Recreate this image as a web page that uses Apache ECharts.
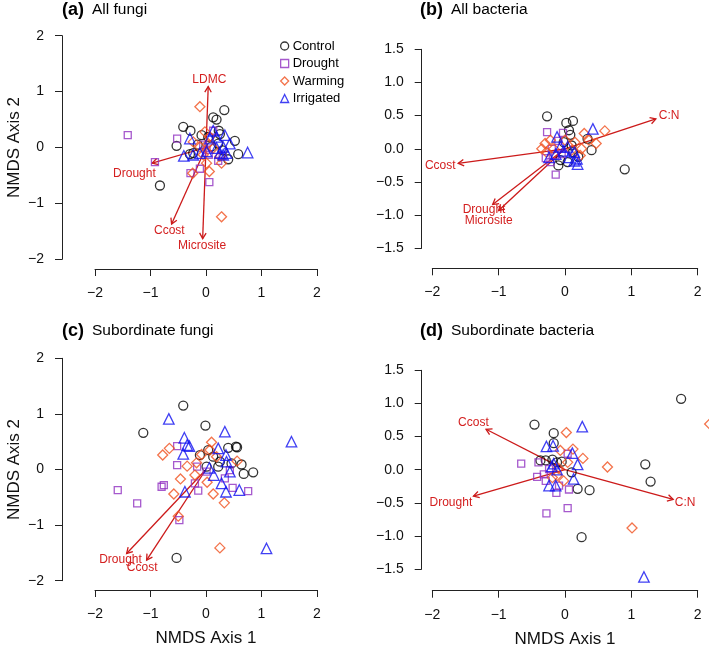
<!DOCTYPE html>
<html><head><meta charset="utf-8">
<script src="https://cdn.jsdelivr.net/npm/echarts@6/dist/echarts.min.js"></script>
<style>html,body{margin:0;padding:0;background:#fff}#c{width:709px;height:649px}</style>
</head><body><div id="c"></div>
<script>
// ---------- DATA ----------
const groups = ['Control','Drought','Warming','Irrigated'];
const xTicks = [-2,-1,0,1,2];
const yTicksFungi = [-2,-1,0,1,2];
const yTicksBact = [-1.5,-1.0,-0.5,0.0,0.5,1.0,1.5];
const panelLetters = ['(a)','(b)','(c)','(d)'];
const panelNames = ['All fungi','All bacteria','Subordinate fungi','Subordinate bacteria'];

// (a) All fungi
const aControl = [[0.33,0.67],[0.13,0.54],[0.19,0.50],[-0.41,0.37],[-0.28,0.30],[-0.53,0.03],[-0.83,-0.68],[0.52,0.12],[0.58,-0.12],[-0.08,0.22],[0.23,0.30],[0.22,0.07],[-0.29,-0.12],[0.40,-0.21],[-0.23,-0.10],[0.04,0.19],[0.25,0.24],[0.10,0.02],[-0.15,0.05],[0.30,-0.05]];
const aDrought = [[-1.41,0.22],[-0.52,0.16],[-0.92,-0.26],[-0.28,-0.46],[-0.11,-0.38],[0.06,-0.62],[0.22,-0.24],[0.13,0.30],[0.01,-0.04],[-0.05,0.05],[0.05,-0.13],[0.30,-0.15]];
const aWarming = [[-0.11,0.73],[0.28,-1.24],[0.06,-0.43],[-0.24,-0.46],[0.01,-0.28],[0.28,-0.28],[-0.23,0.10],[-0.02,0.28],[-0.11,0.01],[0.04,0.07],[0.13,-0.01],[-0.05,-0.13],[0.25,-0.16],[0.07,0.19]];
const aIrrigated = [[0.75,-0.09],[-0.40,-0.15],[-0.29,0.16],[0.34,0.22],[0.19,0.19],[0.13,0.30],[0.07,0.16],[0.31,0.01],[0.37,-0.10],[0.25,-0.10],[-0.11,-0.10],[-0.23,-0.13],[0.01,-0.07],[0.19,-0.01],[0.31,-0.13],[0.43,0.07]];
const aArrows = [[0.04,1.09],[-0.97,-0.28],[-0.62,-1.37],[-0.06,-1.63]];
const aArrowLabels = [[0.06,1.21],[-1.29,-0.46],[-0.66,-1.49],[-0.07,-1.76]];
const aArrowNames = ['LDMC','Drought','Ccost','Microsite'];

// (b) All bacteria
const bControl = [[-0.27,0.49],[0.02,0.39],[0.12,0.42],[0.06,0.28],[0.08,0.21],[0.34,0.15],[0.40,-0.02],[0.90,-0.31],[0.10,0.05],[-0.10,-0.25],[0.04,-0.20],[-0.07,-0.17],[0.12,-0.05],[0.20,-0.12],[-0.02,0.10]];
const bDrought = [[-0.27,0.25],[-0.14,-0.39],[-0.29,-0.14],[-0.20,0.0],[-0.03,0.24],[-0.15,-0.10],[-0.10,0.12],[-0.22,-0.20],[-0.05,-0.08]];
const bWarming = [[0.60,0.27],[0.29,0.23],[0.47,0.08],[0.36,0.13],[0.25,0.0],[0.23,-0.10],[-0.35,0.0],[-0.30,0.08],[-0.22,0.13],[-0.17,0.0],[0.0,0.13],[0.15,0.10],[-0.28,-0.05],[0.10,-0.02]];
const bIrrigated = [[0.42,0.30],[-0.12,0.18],[-0.24,-0.13],[0.19,-0.23],[0.14,-0.18],[-0.02,-0.03],[-0.07,0.03],[0.06,-0.13],[-0.14,-0.08],[0.04,0.03],[0.14,-0.05],[0.18,-0.15]];
const bArrows = [[1.37,0.45],[-1.61,-0.22],[-1.09,-0.84],[-1.0,-0.93]];
const bArrowLabels = [[1.57,0.50],[-1.88,-0.25],[-1.22,-0.92],[-1.15,-1.09]];
const bArrowNames = ['C:N','Ccost','Drought','Microsite'];

// (c) Subordinate fungi
const cControl = [[-0.41,1.15],[-1.13,0.66],[-0.01,0.79],[-0.53,-1.59],[0.40,0.39],[0.54,0.41],[0.56,0.40],[0.64,0.09],[0.68,-0.08],[0.85,-0.05],[0.46,0.11],[0.25,0.14],[0.22,0.05],[0.04,0.35],[-0.11,0.26],[0.01,0.05],[0.13,0.23]];
const cDrought = [[-1.59,-0.37],[-1.24,-0.61],[-0.80,-0.31],[-0.76,-0.28],[-0.52,0.42],[-0.52,0.08],[-0.48,-0.91],[-0.14,-0.38],[-0.20,-0.25],[-0.16,0.05],[0.01,-0.04],[0.34,-0.16],[0.48,-0.33],[0.76,-0.39],[0.43,-0.01]];
const cWarming = [[0.10,0.49],[-0.66,0.38],[-0.78,0.26],[-0.34,0.06],[-0.46,-0.17],[-0.58,-0.44],[-0.50,-0.84],[0.25,-1.41],[0.13,-0.44],[0.33,-0.60],[0.02,-0.23],[-0.08,0.27],[-0.17,0.12],[0.56,0.15],[0.07,0.35],[-0.20,-0.10],[0.19,0.23]];
const cIrrigated = [[-0.67,0.91],[0.34,0.68],[1.54,0.50],[1.09,-1.42],[-0.39,0.57],[-0.34,0.44],[-0.41,0.28],[-0.30,0.42],[0.22,0.38],[0.36,0.26],[0.43,-0.04],[0.14,-0.10],[0.28,-0.25],[0.36,-0.40],[0.60,-0.37],[-0.38,-0.40],[0.06,0.03],[0.37,0.14]];
const cArrows = [[-1.43,-1.51],[-1.07,-1.63]];
const cArrowLabels = [[-1.54,-1.62],[-1.15,-1.76]];
const cArrowNames = ['Drought','Ccost'];

// (d) Subordinate bacteria
const dControl = [[1.75,1.07],[-0.46,0.68],[-0.17,0.55],[-0.17,0.40],[1.21,0.08],[1.29,-0.18],[0.25,-1.02],[0.19,-0.29],[0.37,-0.31],[0.10,-0.04],[-0.37,0.14],[-0.29,0.14],[-0.19,0.15],[-0.12,0.11],[-0.05,0.12]];
const dDrought = [[-0.66,0.09],[-0.28,-0.66],[0.04,-0.58],[0.06,-0.30],[-0.13,-0.35],[-0.42,-0.11],[-0.40,0.11],[0.04,0.24],[-0.29,-0.17],[-0.24,0.01],[-0.09,-0.24],[-0.32,-0.07]];
const dWarming = [[0.02,0.56],[0.12,0.31],[0.27,0.17],[0.64,0.04],[1.01,-0.88],[2.18,0.69],[-0.07,0.29],[0.04,0.11],[-0.02,-0.17],[-0.12,-0.09],[-0.19,-0.12],[-0.10,0.02]];
const dIrrigated = [[0.26,0.65],[1.19,-1.62],[-0.28,0.35],[-0.18,0.36],[0.11,0.25],[0.19,0.08],[0.13,-0.14],[-0.24,-0.24],[-0.14,-0.24],[-0.17,0.09],[-0.12,0.0],[-0.20,0.05]];
const dArrows = [[-1.19,0.61],[-1.38,-0.40],[1.63,-0.45]];
const dArrowLabels = [[-1.38,0.71],[-1.72,-0.50],[1.81,-0.50]];
const dArrowNames = ['Ccost','Drought','C:N'];

// ---------- STYLE ----------
const FONT = '"Liberation Sans", Arial, Helvetica, sans-serif';
const RED = '#CC1A1A';
const groupStyle = {
  Control:   {symbol:'circle',   size:9,    color:'#000000'},
  Drought:   {symbol:'rect',     size:7,    color:'#9030C0'},
  Warming:   {symbol:'diamond',  size:10,   color:'#F0501E'},
  Irrigated: {symbol:'triangle', size:10.5, color:'#1010F0'}
};
const panels = [
  {pts:[aControl,aDrought,aWarming,aIrrigated], arr:aArrows, lab:aArrowLabels, names:aArrowNames, yt:yTicksFungi,
   grid:{left:95, top:35.7, width:222, height:223.6}, xoff:9.7, yoff:33, showXName:false, showYName:true},
  {pts:[bControl,bDrought,bWarming,bIrrigated], arr:bArrows, lab:bArrowLabels, names:bArrowNames, yt:yTicksBact,
   grid:{left:432.3, top:49.3, width:265.4, height:199}, xoff:20, yoff:10.6, showXName:false, showYName:false},
  {pts:[cControl,cDrought,cWarming,cIrrigated], arr:cArrows, lab:cArrowLabels, names:cArrowNames, yt:yTicksFungi,
   grid:{left:95, top:358.3, width:222, height:222.4}, xoff:9.3, yoff:33, showXName:true, showYName:true},
  {pts:[dControl,dDrought,dWarming,dIrrigated], arr:dArrows, lab:dArrowLabels, names:dArrowNames, yt:yTicksBact,
   grid:{left:432.3, top:370.3, width:265.4, height:198.7}, xoff:21.7, yoff:10.6, showXName:true, showYName:false}
];
const titlePos = [{left:62, top:1},{left:420, top:1},{left:62, top:322},{left:420, top:322}];

function fmt(v, dec){ const s = dec ? v.toFixed(1) : String(v); return s.replace('-', '\u2212'); }

const option = {
  animation:false,
  backgroundColor:'#ffffff',
  title: panels.map((p,i)=>({
    left:titlePos[i].left, top:titlePos[i].top, padding:0,
    text:'{b|'+panelLetters[i]+'}{n|'+panelNames[i]+'}',
    textStyle:{fontWeight:'normal', rich:{
      b:{fontFamily:FONT, fontWeight:'bold', fontSize:18, color:'#000', padding:[0,8,0,0]},
      n:{fontFamily:FONT, fontWeight:'normal', fontSize:15.5, color:'#000'}
    }}
  })),
  legend:{
    left:280, top:39.5, orient:'vertical', itemGap:4.5, itemWidth:8, itemHeight:8,
    selectedMode:false, padding:0,
    textStyle:{fontFamily:FONT, fontSize:13, color:'#000', padding:[0,0,0,-1]},
    data: groups.map(g=>({name:g, icon:groupStyle[g].symbol,
      itemStyle:{color:'rgba(0,0,0,0)', borderColor:groupStyle[g].color, borderWidth:1.3}}))
  },
  grid: panels.map(p=>Object.assign({containLabel:false}, p.grid)),
  xAxis: panels.map((p,i)=>({
    type:'value', gridIndex:i, min:-2, max:2, interval:1, offset:p.xoff,
    axisLine:{show:true, onZero:false, lineStyle:{color:'#222', width:1}},
    axisTick:{show:true, length:7, lineStyle:{color:'#222', width:1}},
    splitLine:{show:false},
    axisLabel:{fontFamily:FONT, fontSize:14, color:'#111', margin:17, formatter:v=>fmt(v,false), showMinLabel:true, showMaxLabel:true},
    name: p.showXName ? 'NMDS Axis 1' : '', nameLocation:'middle', nameGap:40,
    nameTextStyle:{fontFamily:FONT, fontSize:17, color:'#111'}
  })),
  yAxis: panels.map((p,i)=>({
    type:'value', gridIndex:i, min:p.yt[0], max:p.yt[p.yt.length-1], interval:p.yt[1]-p.yt[0], offset:p.yoff,
    axisLine:{show:true, onZero:false, lineStyle:{color:'#222', width:1}},
    axisTick:{show:true, length:7, lineStyle:{color:'#222', width:1}},
    splitLine:{show:false},
    axisLabel:{fontFamily:FONT, fontSize:14, color:'#111', margin:18, formatter:v=>fmt(v, i%2===1), showMinLabel:true, showMaxLabel:true},
    name: p.showYName ? 'NMDS Axis 2' : '', nameLocation:'middle', nameGap:39, nameRotate:90,
    nameTextStyle:{fontFamily:FONT, fontSize:17, color:'#111'}
  })),
  series: []
};

panels.forEach((p,i)=>{
  groups.forEach((g,k)=>{
    const st = groupStyle[g];
    option.series.push({
      type:'scatter', name:g, xAxisIndex:i, yAxisIndex:i, data:p.pts[k], clip:false,
      symbol:st.symbol, symbolSize:st.size, silent:true,
      itemStyle:{color:'rgba(0,0,0,0)', borderColor:st.color, borderWidth:1.3},
      emphasis:{disabled:true}
    });
  });
  const names = p.names, labs = p.lab;
  option.series.push({
    type:'custom', name:'arrows'+i, xAxisIndex:i, yAxisIndex:i, data:p.arr, clip:false, silent:true,
    renderItem:function(params, api){
      const o = api.coord([0,0]);
      const t = api.coord([api.value(0), api.value(1)]);
      const lp = api.coord(labs[params.dataIndex]);
      const ang = Math.atan2(t[1]-o[1], t[0]-o[0]);
      const L = 6.5, A = Math.PI/6;
      const h1 = [t[0]-L*Math.cos(ang-A), t[1]-L*Math.sin(ang-A)];
      const h2 = [t[0]-L*Math.cos(ang+A), t[1]-L*Math.sin(ang+A)];
      return {type:'group', children:[
        {type:'line', shape:{x1:o[0],y1:o[1],x2:t[0],y2:t[1]}, style:{stroke:RED, lineWidth:1.3}},
        {type:'polyline', shape:{points:[h1,t,h2]}, style:{stroke:RED, lineWidth:1.3, fill:null}},
        {type:'text', x:lp[0], y:lp[1], style:{text:names[params.dataIndex], fill:'#D42020',
          fontSize:12, fontFamily:FONT, fontWeight:'normal', align:'center', verticalAlign:'middle'}}
      ]};
    }
  });
});

const chart = echarts.init(document.getElementById('c'), null, {renderer:'canvas'});
chart.setOption(option);
</script></body></html>
